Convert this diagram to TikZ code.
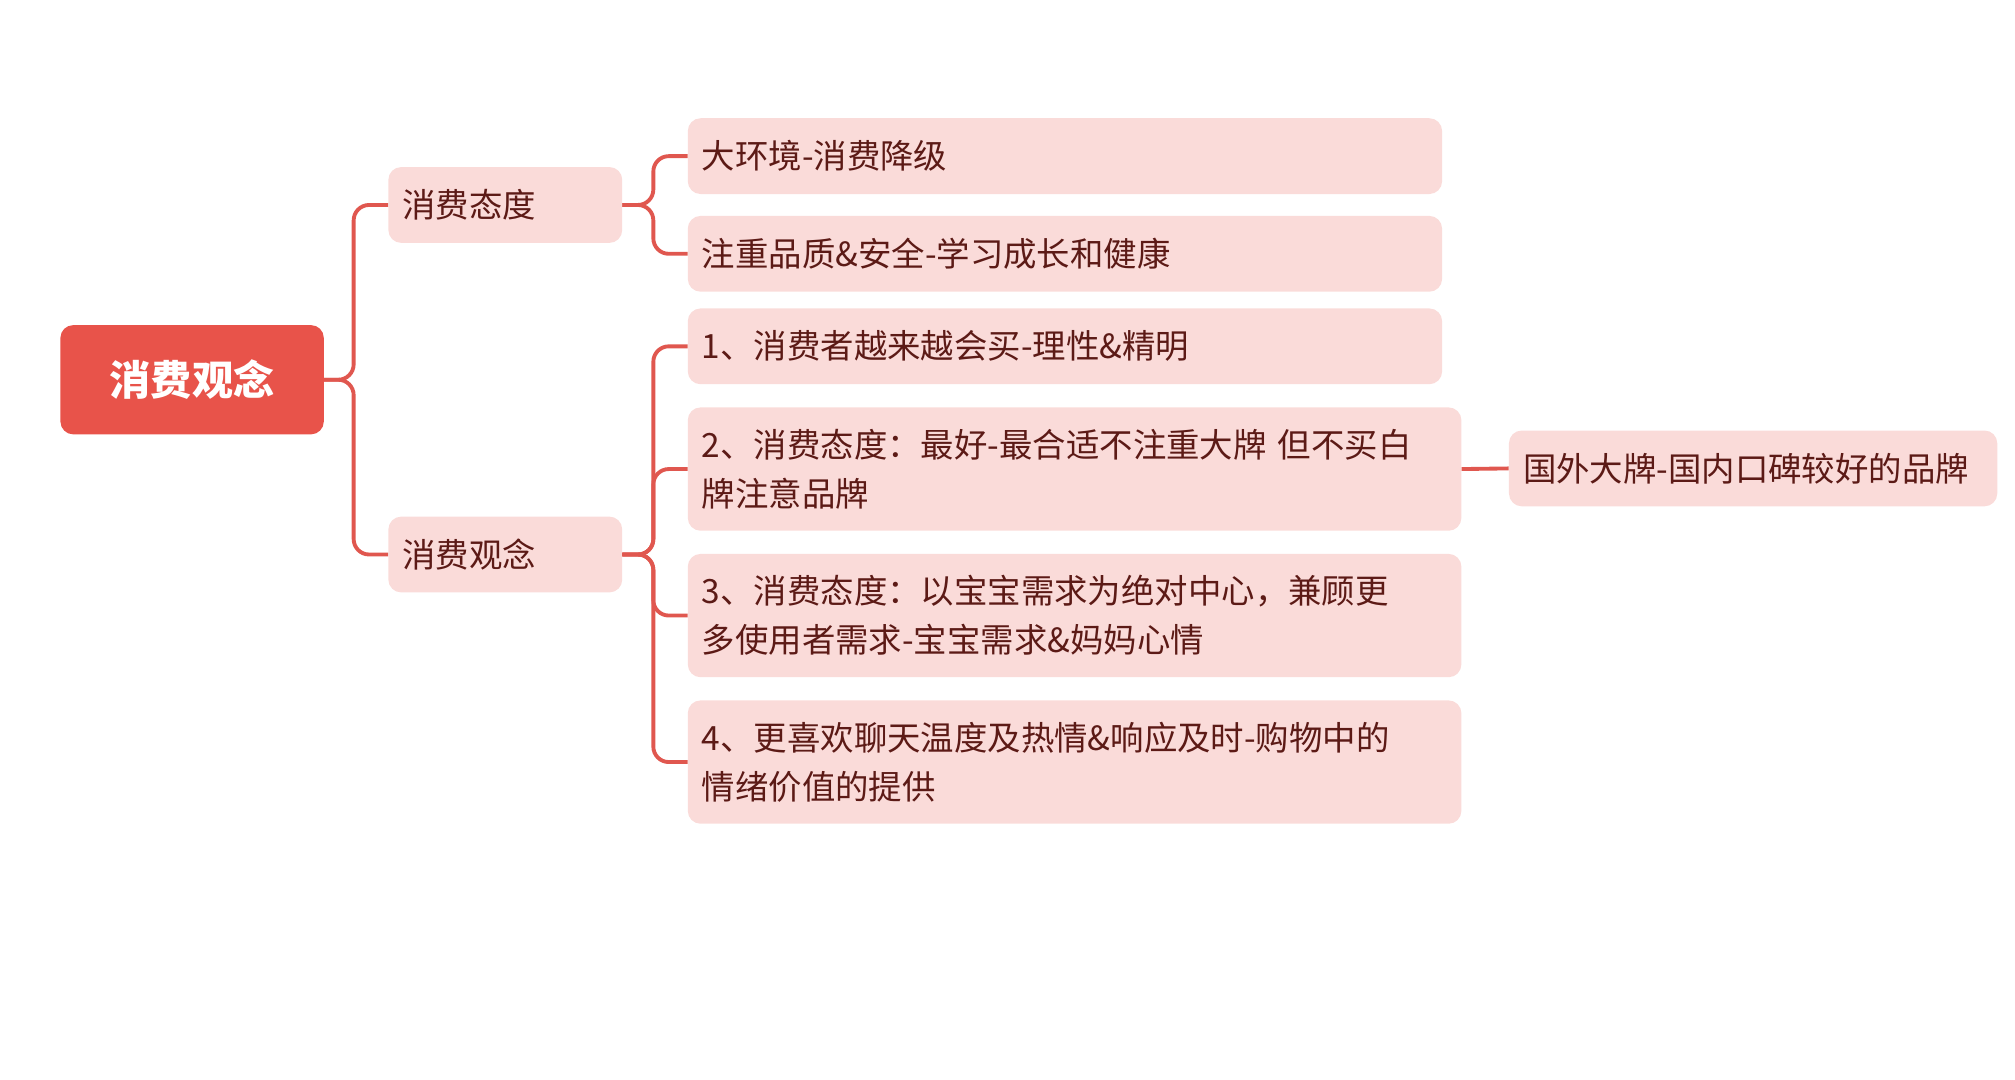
\documentclass[tikz,border=0pt]{standalone}
\usepackage{fontspec}
\setmainfont{Noto Sans CJK SC}
\definecolor{rootc}{HTML}{E8534A}
\definecolor{boxc}{HTML}{FADBD9}
\definecolor{txtc}{HTML}{5C1A16}
\definecolor{linec}{HTML}{E0574F}
\begin{document}
\begin{tikzpicture}[x=1pt,y=1pt,
  sub/.style={fill=boxc,rounded corners=10pt,text=txtc,font=\fontsize{26}{38}\selectfont,
    align=left,inner xsep=11pt,inner ysep=0pt,anchor=west},
  lk/.style={draw=linec,line width=3pt,rounded corners=12pt}]
\useasboundingbox (0,0) rectangle (1568,-840);
\node[fill=rootc,rounded corners=10pt,text=white,font=\fontsize{32}{38}\selectfont\bfseries,
  minimum width=205pt,minimum height=85pt] (root) at (149.5,-295.5) {消费观念};
\node[sub,minimum width=182pt,minimum height=59pt,text width=160pt] (a) at (302,-159.5) {消费态度};
\node[sub,minimum width=182pt,minimum height=59pt,text width=160pt] (b) at (302,-431.5) {消费观念};
\node[sub,minimum width=587pt,minimum height=59pt,text width=565pt] (a1) at (535,-121.5) {大环境-消费降级};
\node[sub,minimum width=587pt,minimum height=59pt,text width=565pt] (a2) at (535,-197.5) {注重品质\&安全-学习成长和健康};
\node[sub,minimum width=587pt,minimum height=59pt,text width=565pt] (b1) at (535,-269.5) {1、消费者越来越会买-理性\&精明};
\node[sub,minimum width=587pt,minimum height=96pt,text width=580pt] (b2) at (535,-365) {2、消费态度：最好-最合适不注重大牌 但不买白\\牌注意品牌};
\node[sub,minimum width=587pt,minimum height=96pt,text width=580pt] (b3) at (535,-479) {3、消费态度：以宝宝需求为绝对中心，兼顾更\\多使用者需求-宝宝需求\&妈妈心情};
\node[sub,minimum width=587pt,minimum height=96pt,text width=580pt] (b4) at (535,-593) {4、更喜欢聊天温度及热情\&响应及时-购物中的\\情绪价值的提供};
\node[sub,minimum width=380pt,minimum height=59pt,text width=358pt] (c1) at (1174,-364.5) {国外大牌-国内口碑较好的品牌};
\draw[lk] (root.east) -- ++(23,0) |- (a.west);
\draw[lk] (root.east) -- ++(23,0) |- (b.west);
\foreach \t in {a1,a2} \draw[lk] (a.east) -- ++(24,0) |- (\t.west);
\foreach \t in {b1,b2,b3,b4} \draw[lk] (b.east) -- ++(24,0) |- (\t.west);
\draw[lk] (b2.east) -- (c1.west);
\end{tikzpicture}
\end{document}
